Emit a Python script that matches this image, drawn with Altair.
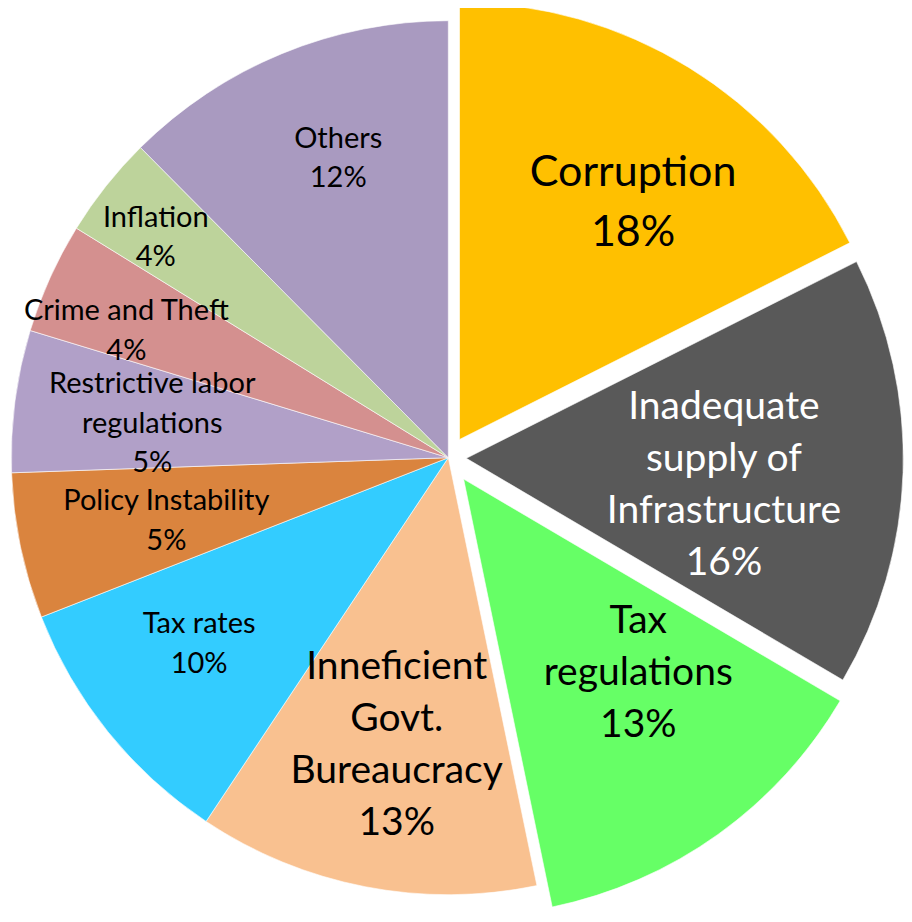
import altair as alt
import pandas as pd

# ---------------- data ----------------
categories = ["Corruption", "Inadequate supply of Infrastructure", "Tax regulations",
              "Inneficient Govt. Bureaucracy", "Tax rates", "Policy Instability",
              "Restrictive labor regulations", "Crime and Theft", "Inflation", "Others"]
values = [17.57, 15.90, 13.28, 12.60, 9.71, 5.39, 5.25, 4.10, 3.76, 12.44]
label_names = ["Corruption", "Inadequate\nsupply of\nInfrastructure", "Tax\nregulations",
               "Inneficient\nGovt.\nBureaucracy", "Tax rates", "Policy Instability",
               "Restrictive labor\nregulations", "Crime and Theft", "Inflation", "Others"]

# ---------------- style ----------------
colors = ["#FFC000", "#595959", "#66FF66", "#F9C190", "#33CCFF", "#DA843E",
          "#B1A0C8", "#D4908F", "#BDD39B", "#A99AC0"]
explode = [21.4, 18.0, 26.3, 0, 0, 0, 0, 0, 0, 0]            # px
label_radius = [293, 259, 261, 292, 311, 289, 298, 346, 366, 319]  # px
label_nudge = [4.7, 4.0, -6.4, -0.8, 2.1, -1.0, -0.9, -2.8, -1.5, 2.2]  # degrees
label_group = [0, 1, 1, 1, 2, 2, 2, 2, 2, 2]
text_colors = ["black", "white", "black", "black", "black", "black",
               "black", "black", "black", "black"]
group_font = {0: (43, 60), 1: (39, 52), 2: (29, 39.5)}
FONT = "Lato"
R = 437
CX, CY = 440.3, 449.7
W, H = 896, 906

labels = [f"{n}\n{round(v)}%" for n, v in zip(label_names, values)]
df = pd.DataFrame({
    "order": list(range(len(categories))),
    "category": categories,
    "value": values,
    "label": labels,
    "nl": [s.count("\n") + 1 for s in labels],
    "explode": explode,
    "lr": label_radius,
    "nudge": label_nudge,
    "grp": label_group,
    "fs": [group_font[g][0] for g in label_group],
    "lh": [group_font[g][1] for g in label_group],
    "tcolor": text_colors,
})

theta_scale = alt.Scale(domain=[0, 100], range=[0, 6.283185307179586])

base = alt.Chart(df).transform_window(
    cum="sum(value)", sort=[alt.SortField("order")], frame=[None, 0]
).transform_calculate(
    start="datum.cum - datum.value",
    mid="datum.cum - datum.value / 2",
).transform_calculate(
    ang="datum.mid / 100 * 2 * PI",
    la="(datum.mid + datum.nudge / 3.6) / 100 * 2 * PI",
).transform_calculate(
    cx=f"{CX} + datum.explode * sin(datum.ang)",
    cy=f"{CY} - datum.explode * cos(datum.ang)",
).transform_calculate(
    tx="datum.cx + datum.lr * sin(datum.la)",
    ty="datum.cy - datum.lr * cos(datum.la) - (datum.nl - 1) / 2 * datum.lh",
)

arcs = base.mark_arc(radius=R, stroke="white", strokeWidth=0.6).encode(
    x=alt.X("cx:Q", scale=None, axis=None),
    y=alt.Y("cy:Q", scale=None, axis=None),
    theta=alt.Theta("start:Q", scale=theta_scale, stack=None),
    theta2="cum:Q",
    fill=alt.Fill("category:N", scale=alt.Scale(domain=categories, range=colors), legend=None),
    order=alt.Order("order:Q"),
)

layers = [arcs]
for g, (fs, lh) in group_font.items():
    t = base.transform_filter(alt.datum.grp == g).mark_text(
        font=FONT, lineBreak="\n", lineHeight=lh, align="center", baseline="middle"
    ).encode(
        x=alt.X("tx:Q", scale=None, axis=None),
        y=alt.Y("ty:Q", scale=None, axis=None),
        text="label:N",
        size=alt.Size("fs:Q", scale=None),
        color=alt.Color("tcolor:N", scale=None),
    )
    layers.append(t)

chart = alt.layer(*layers).properties(
    width=W, height=H, padding=0, autosize=alt.AutoSizeParams(type="none"),
    background="white",
).configure_view(stroke=None)

chart.save("out.html", embed_options={"renderer": "svg", "actions": False})
